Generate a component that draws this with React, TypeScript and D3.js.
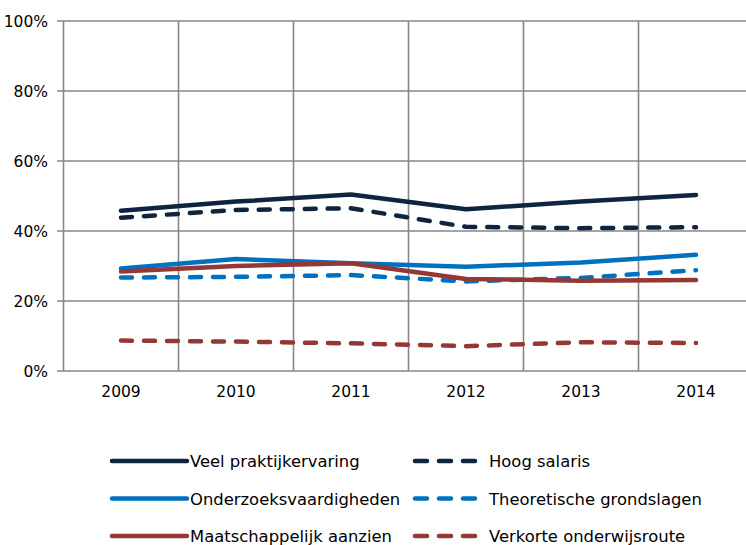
import { useEffect } from 'react'
import * as d3 from 'd3'

const years = ['2009', '2010', '2011', '2012', '2013', '2014']
const yTicks = [0, 20, 40, 60, 80, 100]

const praktijk = [45.8, 48.4, 50.4, 46.2, 48.4, 50.3]
const salaris = [43.8, 46, 46.5, 41.2, 40.8, 41.1]
const onderzoek = [29.3, 32, 30.8, 29.8, 31, 33.2]
const theorie = [26.7, 26.9, 27.4, 25.6, 26.6, 28.8]
const aanzien = [28.4, 30, 30.8, 26.3, 25.8, 26]
const verkort = [8.7, 8.4, 7.9, 7.1, 8.2, 8]

const NAVY = '#0f243e'
const BLUE = '#0070c0'
const RED = '#953735'
const GRID = '#878787'

const series = [
  { name: 'Veel praktijkervaring', values: praktijk, color: NAVY, dashed: false },
  { name: 'Hoog salaris', values: salaris, color: NAVY, dashed: true },
  { name: 'Onderzoeksvaardigheden', values: onderzoek, color: BLUE, dashed: false },
  { name: 'Theoretische grondslagen', values: theorie, color: BLUE, dashed: true },
  { name: 'Maatschappelijk aanzien', values: aanzien, color: RED, dashed: false },
  { name: 'Verkorte onderwijsroute', values: verkort, color: RED, dashed: true },
]

const FONT = '"DejaVu Sans", Verdana, sans-serif'

export default function App() {
  useEffect(() => {
    document.body.style.margin = '0'
  }, [])

  const width = 746
  const height = 545
  const left = 63.5
  const top = 21
  const bottom = 371
  const band = 115

  const x = d3.scaleBand<string>().domain(years).range([left, left + band * years.length])
  const y = d3.scaleLinear().domain([0, 100]).range([bottom, top])
  const cx = (yr: string) => (x(yr) ?? 0) + x.bandwidth() / 2

  const line = d3
    .line<number>()
    .x((_, i) => cx(years[i]))
    .y((d) => y(d))

  const legendRows = [461, 498.5, 536]
  const legendCols = [{ x0: 112, x1: 187, tx: 190 }, { x0: 415, x1: 476, tx: 489 }]

  return (
    <svg width={width} height={height} style={{ position: 'absolute', left: 0, top: 0, background: '#fff' }}>
      {/* horizontal gridlines + ticks */}
      {yTicks.map((t) => (
        <g key={t}>
          <line x1={57} x2={width} y1={y(t)} y2={y(t)} stroke={GRID} strokeWidth={1.6} />
          <text x={48} y={y(t) + 5.5} textAnchor="end" fontFamily={FONT} fontSize={15.5} fill="#000">
            {t}%
          </text>
        </g>
      ))}
      {/* vertical gridlines */}
      {years.map((yr) => (
        <line key={yr} x1={x(yr)} x2={x(yr)} y1={top} y2={bottom} stroke={GRID} strokeWidth={1.6} />
      ))}
      {/* x labels */}
      {years.map((yr) => (
        <text key={yr} x={cx(yr)} y={397} textAnchor="middle" fontFamily={FONT} fontSize={15.5} fill="#000">
          {yr}
        </text>
      ))}
      {/* series */}
      {series.map((s) => (
        <path
          key={s.name}
          d={line(s.values) ?? ''}
          fill="none"
          stroke={s.color}
          strokeWidth={4.5}
          strokeLinecap="round"
          strokeLinejoin="round"
          strokeDasharray={s.dashed ? '11 12' : undefined}
        />
      ))}
      {/* legend */}
      {series.map((s, i) => {
        const col = legendCols[i % 2]
        const ry = legendRows[Math.floor(i / 2)]
        return (
          <g key={s.name}>
            <line
              x1={col.x0}
              x2={col.x1}
              y1={ry}
              y2={ry}
              stroke={s.color}
              strokeWidth={4.5}
              strokeLinecap="round"
              strokeDasharray={s.dashed ? '12 12' : undefined}
            />
            <text x={col.tx} y={ry + 6} fontFamily={FONT} fontSize={16.4} fill="#000">
              {s.name}
            </text>
          </g>
        )
      })}
    </svg>
  )
}
